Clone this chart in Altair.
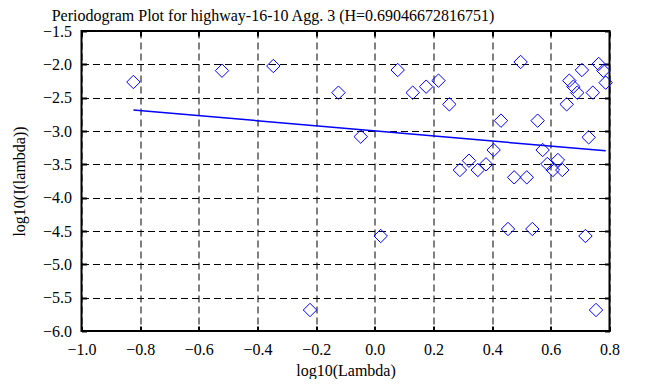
import altair as alt
import pandas as pd

# Periodogram points (log10 lambda, log10 I(lambda))
x_vals = [-0.823, -0.521, -0.346, -0.124, -0.048, 0.078, 0.129, 0.175, 0.217, 0.254,
          0.290, 0.321, 0.351, 0.379, 0.405, 0.430, 0.475, 0.497, 0.518, 0.555,
          0.572, 0.588, 0.607, 0.624, 0.639, 0.654, 0.663, 0.677, 0.690, 0.706,
          0.729, 0.743, 0.763, 0.779, 0.787, -0.221, 0.020, 0.454, 0.537, 0.718,
          0.754]
y_vals = [-2.265, -2.095, -2.025, -2.425, -3.085, -2.085, -2.425, -2.335, -2.245, -2.600,
          -3.585, -3.445, -3.585, -3.500, -3.285, -2.845, -3.695, -1.965, -3.695, -2.845,
          -3.285, -3.495, -3.585, -3.435, -3.585, -2.600, -2.245, -2.335, -2.425, -2.085,
          -3.095, -2.425, -1.995, -2.095, -2.275, -5.685, -4.575, -4.470, -4.470, -4.575,
          -5.685]

# Fitted regression line endpoints
line_x = [-0.823, 0.787]
line_y = [-2.685, -3.298]

x_ticks = [-1, -0.8, -0.6, -0.4, -0.2, 0, 0.2, 0.4, 0.6, 0.8]
y_ticks = [-6, -5.5, -5, -4.5, -4, -3.5, -3, -2.5, -2, -1.5]

title_text = "Periodogram Plot for highway-16-10 Agg. 3 (H=0.69046672816751)"
x_title = "log10(Lambda)"
y_title = "log10(I(lambda))"

pts = pd.DataFrame({"x": x_vals, "y": y_vals})
ln = pd.DataFrame({"x": line_x, "y": line_y})

FONT = "'Liberation Serif', 'DejaVu Serif', 'Times New Roman', serif"
BLUE = "#0000ff"
xs = alt.Scale(domain=[-1, 0.8], nice=False, zero=False)
ys = alt.Scale(domain=[-6, -1.5], nice=False, zero=False)

common = dict(domain=False, offset=-5, tickSize=5, tickWidth=2, tickColor="black")

points = alt.Chart(pts).mark_point(
    shape="diamond", size=180, filled=False, color=BLUE, strokeWidth=1, opacity=1
).encode(
    x=alt.X("x:Q", scale=xs, axis=alt.Axis(
        orient="bottom", values=x_ticks, title=x_title, grid=True,
        gridDash=[7, 4], gridColor="black", gridOpacity=1, gridWidth=1,
        labelPadding=10, labelFont=FONT, labelFontSize=16, labelColor="black",
        labelFlush=False, labelOverlap=False,
        titleFont=FONT, titleFontSize=16, titleFontWeight="normal", titleColor="black",
        titlePadding=5, **common)),
    y=alt.Y("y:Q", scale=ys, axis=alt.Axis(
        orient="left", values=y_ticks, title=y_title, grid=True,
        gridDash=[7, 4], gridColor="black", gridOpacity=1, gridWidth=1,
        labelPadding=10, labelFont=FONT, labelFontSize=16, labelColor="black",
        labelOverlap=False,
        titleFont=FONT, titleFontSize=16, titleFontWeight="normal", titleColor="black",
        titlePadding=15, **common)),
)

line = alt.Chart(ln).mark_line(color=BLUE, strokeWidth=1.5).encode(
    x=alt.X("x:Q", scale=xs, axis=alt.Axis(
        orient="top", values=x_ticks, labels=False, title=None, grid=False,
        minExtent=0, maxExtent=0, **common)),
    y=alt.Y("y:Q", scale=ys, axis=alt.Axis(
        orient="right", values=y_ticks, labels=False, title=None, grid=False,
        minExtent=0, maxExtent=0, **common)),
)

chart = alt.layer(points, line).resolve_axis(
    x="independent", y="independent"
).properties(
    width=528, height=300,
    padding={"left": 73.5, "top": 23, "right": 40, "bottom": 48},
    autosize=alt.AutoSizeParams(type="none"),
    title=alt.TitleParams(
        text=title_text, font=FONT, fontSize=16, fontWeight="normal", color="black",
        anchor="middle", dx=-72.5, baseline="top", offset=0, dy=1),
).configure_view(stroke="black", strokeWidth=2)

chart.save("out.html", embed_options={"renderer": "svg", "actions": False})
